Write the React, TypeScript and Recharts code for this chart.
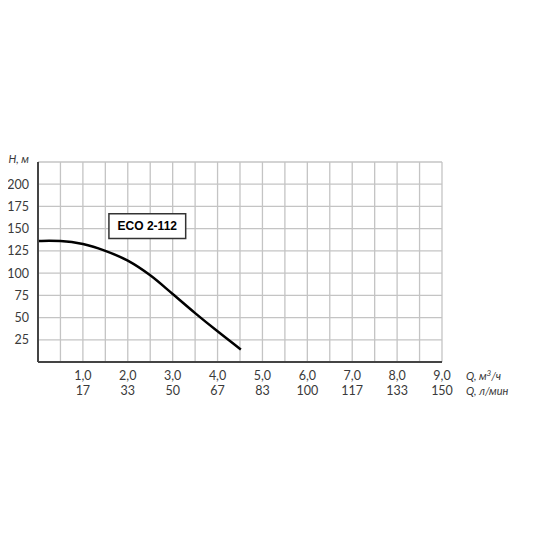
import React from 'react';
import { LineChart, Line, XAxis, YAxis, CartesianGrid, ReferenceArea } from 'recharts';

// Q, m3/h
const flow = [0, 0.25, 0.5, 1.0, 1.5, 2.0, 2.5, 3.0, 3.5, 4.0, 4.52];
// H, m
const head = [136, 136.3, 136, 132.7, 125, 114, 97.5, 76.5, 55, 34.5, 14];

const xTicks = [0, 0.5, 1, 1.5, 2, 2.5, 3, 3.5, 4, 4.5, 5, 5.5, 6, 6.5, 7, 7.5, 8, 8.5, 9];
const yTicks = [0, 25, 50, 75, 100, 125, 150, 175, 200, 225];
const m3hLabels = ['1,0', '2,0', '3,0', '4,0', '5,0', '6,0', '7,0', '8,0', '9,0'];
const lpmLabels = ['17', '33', '50', '67', '83', '100', '117', '133', '150'];

const data = flow.map((q, i) => ({ q, h: head[i] }));

const FONT = 'Lato, "Noto Sans", sans-serif';
const TEXT = '#3a3a3a';

const XTick = (props: any) => {
  const { x, y, payload } = props;
  const v = payload.value;
  if (v === 0 || !Number.isInteger(v)) return null;
  const i = v - 1;
  return (
    <g fontFamily={FONT} fontSize={12.5} fill={TEXT}>
      <text x={x} y={y + 16} textAnchor="middle">{m3hLabels[i]}</text>
      <text x={x} y={y + 31} textAnchor="middle">{lpmLabels[i]}</text>
      {v === 9 && (
        <>
          <text x={x + 24} y={y + 16} fontStyle="italic" fontSize={11}>
            Q, м<tspan fontSize={8} dy={-4}>3</tspan><tspan dy={4}>/ч</tspan>
          </text>
          <text x={x + 24} y={y + 31} fontStyle="italic" fontSize={11}>Q, л/мин</text>
        </>
      )}
    </g>
  );
};

const YTick = (props: any) => {
  const { x, y, payload } = props;
  const v = payload.value;
  if (v === 0) return null;
  if (v === 225) {
    return (
      <text x={x - 7} y={y} dy={1} textAnchor="end" fontFamily={FONT} fontSize={11} fontStyle="italic" fill={TEXT}>
        H, м
      </text>
    );
  }
  return (
    <text x={x - 7} y={y} dy={4.5} textAnchor="end" fontFamily={FONT} fontSize={12.5} fill={TEXT}>
      {v}
    </text>
  );
};

export default function App() {
  return (
    <div style={{ width: 550, height: 550, margin: '-8px 0 0 -8px' }}>
      <LineChart width={550} height={550} data={data} margin={{ top: 162, right: 108, left: 0, bottom: 148 }}>
        <CartesianGrid stroke="#c4c4c4" strokeWidth={1.3} />
        <XAxis
          dataKey="q"
          type="number"
          domain={[0, 9]}
          ticks={xTicks}
          interval={0}
          height={40}
          tickLine={false}
          tickSize={0}
          axisLine={{ stroke: '#444', strokeWidth: 2 }}
          tick={<XTick />}
        />
        <YAxis
          type="number"
          domain={[0, 225]}
          ticks={yTicks}
          interval={0}
          width={38}
          tickLine={false}
          tickSize={0}
          axisLine={{ stroke: '#444', strokeWidth: 2 }}
          tick={<YTick />}
        />
        <ReferenceArea
          x1={1.58}
          x2={3.29}
          y1={139}
          y2={166.7}
          fill="#fff"
          fillOpacity={1}
          stroke="#333"
          strokeWidth={1.5}
          label={{
            value: 'ECO 2-112',
            position: 'center',
            fill: '#000',
            fontWeight: 'bold',
            fontSize: 12,
            fontFamily: '"Liberation Sans", Arial, sans-serif',
          }}
        />
        <Line
          type="monotone"
          dataKey="h"
          stroke="#000"
          strokeWidth={2.5}
          dot={false}
          isAnimationActive={false}
        />
      </LineChart>
    </div>
  );
}
